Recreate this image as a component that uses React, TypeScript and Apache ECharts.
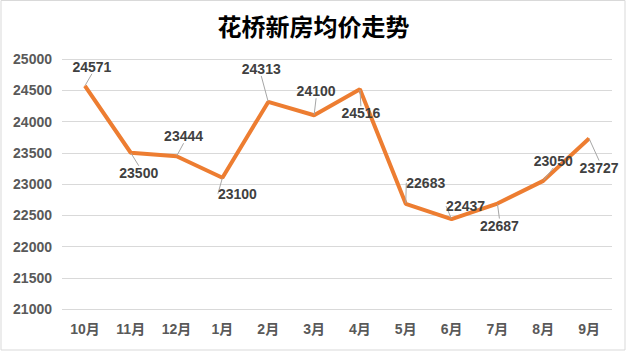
import React, { useEffect, useRef } from "react";
import * as echarts from "echarts";

const titleText = "花桥新房均价走势";
const months = ["10月", "11月", "12月", "1月", "2月", "3月", "4月", "5月", "6月", "7月", "8月", "9月"];
const prices = [24571, 23500, 23444, 23100, 24313, 24100, 24516, 22683, 22437, 22687, 23050, 23727];
const yMin = 21000;
const yMax = 25000;
const yStep = 500;

// label placement offsets (layout only)
const labelShift: [number, number][] = [
  [7, -19], [8, 20], [7, -20], [15, 16], [-7, -33], [2, -24],
  [1, 24], [20, -21], [14, -13], [2, 22], [10, -20], [10, 29],
];

export default function App() {
  const ref = useRef<HTMLDivElement>(null);
  useEffect(() => {
    if (!ref.current) return;
    const chart = echarts.init(ref.current, null, { renderer: "svg" });
    const font = 'Arial, "Liberation Sans", "Noto Sans CJK SC", sans-serif';
    chart.setOption({
      animation: false,
      backgroundColor: "#ffffff",
      title: {
        text: titleText,
        left: "center",
        top: 8,
        textStyle: {
          fontSize: 24,
          fontWeight: "bold",
          color: "#000000",
          fontFamily: '"Noto Sans CJK SC", sans-serif',
        },
      },
      graphic: [
        {
          type: "rect",
          shape: { x: 1, y: 0.5, width: 624, height: 349.5 },
          style: { fill: "none", stroke: "#d9d9d9", lineWidth: 1 },
          silent: true,
        },
      ],
      grid: { left: 62, right: 15, top: 59, bottom: 42, containLabel: false },
      xAxis: {
        type: "category",
        data: months,
        boundaryGap: true,
        axisLine: { show: false },
        axisTick: { show: false },
        axisLabel: {
          margin: 13,
          fontSize: 14,
          fontWeight: "bold",
          color: "#595959",
          fontFamily: font,
        },
      },
      yAxis: {
        type: "value",
        min: yMin,
        max: yMax,
        interval: yStep,
        axisLine: { show: false },
        axisTick: { show: false },
        splitLine: { lineStyle: { color: "#d9d9d9", width: 1 } },
        axisLabel: {
          margin: 10,
          fontSize: 14,
          fontWeight: "bold",
          color: "#595959",
          fontFamily: font,
          formatter: (v: number) => String(v),
        },
      },
      series: [
        {
          type: "line",
          data: prices,
          symbol: "circle",
          symbolSize: 1,
          showSymbol: true,
          lineStyle: { color: "#ED7D31", width: 4 },
          itemStyle: { color: "#ED7D31" },
          label: {
            show: true,
            position: "inside",
            fontSize: 14,
            fontWeight: "bold",
            color: "#404040",
            fontFamily: font,
          },
          labelLine: {
            show: true,
            lineStyle: { color: "#a6a6a6", width: 1 },
          },
          labelLayout: (p: any) => {
            const s = labelShift[p.dataIndex] || [0, 0];
            return { dx: s[0], dy: s[1] };
          },
        },
      ],
    });
    return () => chart.dispose();
  }, []);
  return (
    <div
      ref={ref}
      style={{ position: "fixed", left: 0, top: 0, width: 627, height: 351, background: "#fff" }}
    />
  );
}
